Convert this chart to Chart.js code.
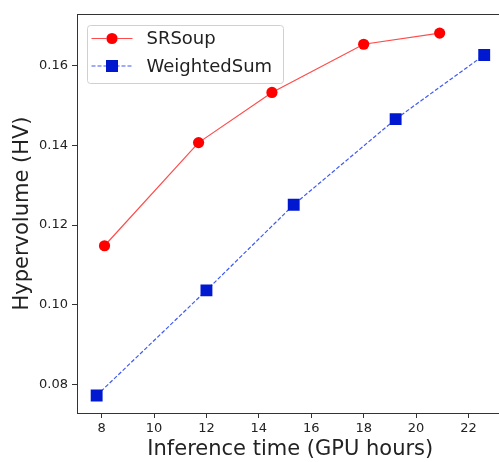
<!DOCTYPE html>
<html>
<head>
<meta charset="utf-8">
<title>Hypervolume vs inference time</title>
<script src="https://cdn.jsdelivr.net/npm/chart.js@4/dist/chart.umd.min.js"></script>
<style>
  html, body { margin: 0; padding: 0; background: #fff; overflow: hidden; }
  #wrap { width: 499px; height: 462px; overflow: hidden; }
</style>
</head>
<body>
<div id="wrap">
  <canvas id="hvChart" width="512" height="462"></canvas>
</div>
<script>
// inference time (GPU hours) and hypervolume per method
const srsoupHours = [8.11, 11.70, 14.50, 18.00, 20.90];
const srsoupHV = [0.1148, 0.1407, 0.1533, 0.1654, 0.1682];
const wsumHours = [7.81, 12.00, 15.33, 19.22, 22.60];
const wsumHV = [0.0772, 0.1036, 0.1251, 0.1466, 0.1627];

const xTicks = [8, 10, 12, 14, 16, 18, 20, 22];
const yTicks = [0.08, 0.10, 0.12, 0.14, 0.16];

const seriesNames = ['SRSoup', 'WeightedSum'];

function toPoints(xs, ys) {
    return xs.map((x, i) => ({ x: x, y: ys[i] }));
}

const FONT = 'DejaVu Sans';
const AXIS_COLOR = '#333';
const TEXT_COLOR = '#222';

// top spine + matplotlib-style legend box in the upper-left corner
const framePlugin = {
    id: 'frame',
    afterDatasetsDraw(chart) {
        const ctx = chart.ctx;
        const area = chart.chartArea;
        ctx.save();
        ctx.strokeStyle = AXIS_COLOR;
        ctx.lineWidth = 1;
        ctx.beginPath();
        ctx.moveTo(area.left, area.top + 0.5);
        ctx.lineTo(area.right, area.top + 0.5);
        ctx.stroke();

        // legend frame
        const bx = area.left + 10.5, by = area.top + 11.5, bw = 196, bh = 58, r = 3;
        ctx.beginPath();
        ctx.moveTo(bx + r, by);
        ctx.arcTo(bx + bw, by, bx + bw, by + bh, r);
        ctx.arcTo(bx + bw, by + bh, bx, by + bh, r);
        ctx.arcTo(bx, by + bh, bx, by, r);
        ctx.arcTo(bx, by, bx + bw, by, r);
        ctx.closePath();
        ctx.fillStyle = 'rgba(255,255,255,0.85)';
        ctx.fill();
        ctx.strokeStyle = '#d0d0d0';
        ctx.stroke();

        chart.data.datasets.forEach((ds, i) => {
            const y = by + 13 + i * 27.5;
            const x0 = bx + 4, x1 = bx + 45, xm = (x0 + x1) / 2;
            ctx.strokeStyle = ds.borderColor;
            ctx.lineWidth = ds.borderWidth;
            ctx.setLineDash(ds.borderDash || []);
            ctx.beginPath();
            ctx.moveTo(x0, y);
            ctx.lineTo(x1, y);
            ctx.stroke();
            ctx.setLineDash([]);
            Chart.helpers.drawPoint(ctx, {
                pointStyle: ds.pointStyle,
                radius: ds.pointRadius,
                borderWidth: 0
            }, xm, y);
            ctx.fillStyle = ds.pointBackgroundColor;
            ctx.fill();
            ctx.fillStyle = TEXT_COLOR;
            ctx.font = '18px "' + FONT + '"';
            ctx.textBaseline = 'middle';
            ctx.textAlign = 'left';
            ctx.fillText(ds.label, bx + 59, y + 1);
        });
        ctx.restore();
    }
};

const ctx = document.getElementById('hvChart').getContext('2d');

new Chart(ctx, {
    type: 'scatter',
    data: {
        datasets: [{
            label: seriesNames[0],
            data: toPoints(srsoupHours, srsoupHV),
            showLine: true,
            borderColor: 'rgba(255, 30, 30, 0.8)',
            borderWidth: 1.2,
            pointStyle: 'circle',
            pointRadius: 5.6,
            pointBackgroundColor: '#ff0000',
            pointBorderWidth: 0
        }, {
            label: seriesNames[1],
            data: toPoints(wsumHours, wsumHV),
            showLine: true,
            borderColor: 'rgba(30, 60, 240, 0.85)',
            borderWidth: 1.2,
            borderDash: [4, 2],
            pointStyle: 'rect',
            pointRadius: 8.4,
            pointBackgroundColor: '#0018d0',
            pointBorderWidth: 0
        }]
    },
    options: {
        responsive: false,
        animation: false,
        events: [],
        layout: {
            padding: { top: 14, right: 4, left: 0, bottom: 0 }
        },
        scales: {
            x: {
                type: 'linear',
                min: 7.06,
                max: 23.34,
                afterBuildTicks: scale => { scale.ticks = xTicks.map(v => ({ value: v })); },
                afterFit: scale => { scale.height = 49; },
                grid: {
                    display: true,
                    drawOnChartArea: false,
                    drawTicks: true,
                    tickLength: 5,
                    tickColor: AXIS_COLOR
                },
                border: { display: true, color: AXIS_COLOR, width: 1 },
                ticks: {
                    padding: 3,
                    color: TEXT_COLOR,
                    font: { family: FONT, size: 13 },
                    callback: v => String(v)
                },
                title: {
                    display: true,
                    text: 'Inference time (GPU hours)',
                    color: TEXT_COLOR,
                    font: { family: FONT, size: 21 },
                    padding: { top: 0, bottom: 0 }
                }
            },
            y: {
                type: 'linear',
                min: 0.0728,
                max: 0.173,
                afterBuildTicks: scale => { scale.ticks = yTicks.map(v => ({ value: v })); },
                afterFit: scale => { scale.width = 77; },
                grid: {
                    display: true,
                    drawOnChartArea: false,
                    drawTicks: true,
                    tickLength: 5,
                    tickColor: AXIS_COLOR
                },
                border: { display: true, color: AXIS_COLOR, width: 1 },
                ticks: {
                    padding: 4,
                    color: TEXT_COLOR,
                    font: { family: FONT, size: 13 },
                    callback: v => v.toFixed(2)
                },
                title: {
                    display: true,
                    text: 'Hypervolume (HV)',
                    color: TEXT_COLOR,
                    font: { family: FONT, size: 21 },
                    padding: { top: 10, bottom: 0 }
                }
            }
        },
        plugins: {
            legend: { display: false },
            tooltip: { enabled: false }
        }
    },
    plugins: [framePlugin]
});
</script>
</body>
</html>
